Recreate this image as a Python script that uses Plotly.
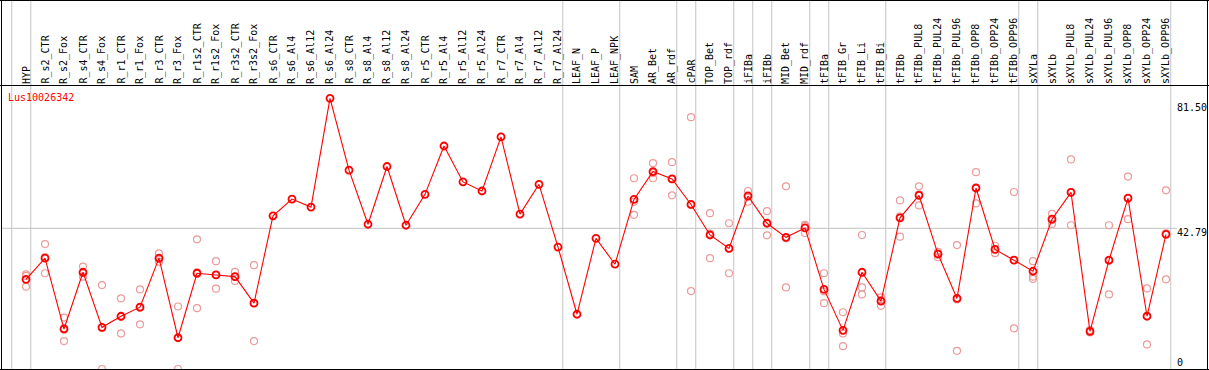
import plotly.graph_objects as go

categories = ["HYP", "R_s2_CTR", "R_s2_Fox", "R_s4_CTR", "R_s4_Fox", "R_r1_CTR", "R_r1_Fox",
              "R_r3_CTR", "R_r3_Fox", "R_r1s2_CTR", "R_r1s2_Fox", "R_r3s2_CTR", "R_r3s2_Fox",
              "R_s6_CTR", "R_s6_Al4", "R_s6_Al12", "R_s6_Al24", "R_s8_CTR", "R_s8_Al4", "R_s8_Al12",
              "R_s8_Al24", "R_r5_CTR", "R_r5_Al4", "R_r5_Al12", "R_r5_Al24", "R_r7_CTR", "R_r7_Al4",
              "R_r7_Al12", "R_r7_Al24", "LEAF_N", "LEAF_P", "LEAF_NPK", "SAM", "AR_Bet", "AR_rdf",
              "cPAR", "TOP_Bet", "TOP_rdf", "iFIBa", "iFIBb", "MID_Bet", "MID_rdf", "tFIBa",
              "tFIB_Gr", "tFIB_Li", "tFIB_Bi", "tFIBb", "tFIBb_PUL8", "tFIBb_PUL24", "tFIBb_PUL96",
              "tFIBb_OPP8", "tFIBb_OPP24", "tFIBb_OPP96", "sXYLa", "sXYLb", "sXYLb_PUL8",
              "sXYLb_PUL24", "sXYLb_PUL96", "sXYLb_OPP8", "sXYLb_OPP24", "sXYLb_OPP96"]

means = [27.6, 33.9, 12.8, 29.7, 13.3, 16.6, 19.3, 33.9, 10.2, 29.4, 28.9, 28.4, 20.5,
         46.5, 51.5, 49.1, 81.5, 60.1, 44.0, 61.2, 43.7, 52.9, 67.3, 56.6, 53.9, 70.0, 47.0,
         55.9, 37.2, 17.2, 39.8, 32.1, 51.4, 59.7, 57.5, 49.9, 40.8, 36.8, 52.4, 44.3, 40.1,
         42.9, 24.6, 12.4, 29.7, 21.1, 45.9, 52.6, 35.1, 21.9, 54.8, 36.5, 33.3, 30.0, 45.5,
         53.5, 12.1, 33.3, 51.8, 16.6, 41.0]

N = None
rep_a = [29.1, 38.1, 16.2, 31.4, 25.9, 21.9, 24.6, 35.3, 19.5, 39.5, 33.0, 29.8, 31.8,
         N, N, N, N, N, N, N, N, N, N, N, N, N, N, N, N, N, N, N,
         57.7, 62.2, 62.5, 75.9, 47.3, 44.3, 53.9, 47.9, 55.3, 43.5, 29.4, 17.8, 40.8, 19.7,
         51.1, 55.3, 35.8, 37.8, 59.5, 37.6, 53.6, 33.0, 47.1, 63.3, 12.5, 43.7, 58.2, 24.9, 54.1]
rep_b = [28.6, 29.4, 9.2, 28.4, 0.9, 11.5, 14.2, 32.8, 0.9, 19.0, 24.8, 27.1, 9.2,
         N, N, N, N, N, N, N, N, N, N, N, N, N, N, N, N, N, N, N,
         46.8, 57.7, 52.6, 24.1, 33.9, 29.4, 50.7, 40.7, 25.2, 41.4, 20.5, 7.7, 25.2, 21.4,
         40.3, 49.6, 34.2, 6.3, 50.2, 35.4, 13.0, 28.4, 44.1, 43.7, 11.8, 23.1, 45.5, 8.2, 27.6]
rep_c = [25.4, 34.2, 13.0, 29.4, 13.1, 16.4, 19.1, 33.6, 10.2, 29.7, 28.9, 28.3, 20.5,
         N, N, N, N, N, N, N, N, N, N, N, N, N, N, N, N, N, N, N,
         50.7, 59.2, 57.4, 49.7, 41.2, 36.7, 52.6, 44.3, 39.8, 43.8, 24.0, 11.5, 23.1, 22.2,
         46.3, 52.9, 35.3, 21.6, 54.7, 36.5, 33.3, 27.7, 45.3, 53.5, 12.0, 33.1, 51.7, 16.7, 41.3]

group_ends = [-1, 0, 28, 31, 34, 35, 37, 38, 39, 41, 42, 45, 52, 53, 60]
tick_values = [81.50, 42.79, 0]
tick_labels = ["81.50", "42.79", "0"]
grid_values = [42.79]
gene_id = "Lus10026342"

# ---- geometry (pixels) ----
W, H = 1209, 370
X0_PX, STEP_PX = 26.0, 19.0          # pixel of first category, spacing
Y_ZERO_PX, Y_SCALE = 372.0, 3.358    # pixel of value 0, pixels per unit

xmin = -X0_PX / STEP_PX
xmax = xmin + W / STEP_PX
ytop = Y_ZERO_PX / Y_SCALE
ybot = (Y_ZERO_PX - H) / Y_SCALE


def px_x(p):
    return xmin + p / STEP_PX


def px_y(p):
    return (Y_ZERO_PX - p) / Y_SCALE


xs = list(range(len(categories)))
RED = "#ff0000"
PINK = "#ec9a9a"
GRAY = "#c4c4c4"
FONT = "DejaVu Sans Mono"

fig = go.Figure()

shapes = []
# vertical group separators
for g in group_ends:
    xv = g + 0.25
    shapes.append(dict(type="line", x0=xv, x1=xv, y0=ytop, y1=ybot, xref="x", yref="y",
                       line=dict(color=GRAY, width=1), layer="below"))
# horizontal grid
for gv in grid_values:
    shapes.append(dict(type="line", x0=px_x(2), x1=px_x(1177), y0=gv, y1=gv, xref="x", yref="y",
                       line=dict(color=GRAY, width=1), layer="below"))
# frame
blk = dict(color="black", width=1)
frame = [
    dict(type="line", x0=px_x(1.5), x1=px_x(1.5), y0=ytop, y1=px_y(369.5), line=blk),
    dict(type="line", x0=px_x(1207.5), x1=px_x(1207.5), y0=ytop, y1=px_y(369.5), line=blk),
    dict(type="line", x0=px_x(0), x1=px_x(W), y0=px_y(0.5), y1=px_y(0.5), line=blk),
    dict(type="line", x0=px_x(0), x1=px_x(W), y0=px_y(369.5), y1=px_y(369.5), line=blk),
    dict(type="line", x0=px_x(0), x1=px_x(W), y0=px_y(85.5), y1=px_y(85.5), line=blk),
]
for s in frame:
    s.update(xref="x", yref="y")
shapes += frame

# replicate points
for reps in (rep_a, rep_b, rep_c):
    fig.add_trace(go.Scatter(
        x=xs, y=reps, mode="markers",
        marker=dict(symbol="circle-open", size=7, color=PINK, line=dict(width=1.2, color=PINK)),
        hoverinfo="skip", showlegend=False))

# mean line
fig.add_trace(go.Scatter(
    x=xs, y=means, mode="lines+markers",
    line=dict(color=RED, width=1.1),
    marker=dict(symbol="circle-open", size=7, color=RED, line=dict(width=1.8, color=RED)),
    showlegend=False))

annotations = []
for i, c in enumerate(categories):
    annotations.append(dict(x=i, y=px_y(84), xref="x", yref="y", text=c, showarrow=False,
                            textangle=-90, xanchor="center", yanchor="bottom",
                            font=dict(family=FONT, size=10, color="black"),
                            borderpad=0, borderwidth=0))
for v, lab in zip(tick_values, tick_labels):
    if v == max(tick_values):
        ypix = 107
    elif v == min(tick_values):
        ypix = 362
    else:
        ypix = Y_ZERO_PX - v * Y_SCALE + 4
    annotations.append(dict(x=px_x(1177), y=px_y(ypix), xref="x", yref="y", text=lab,
                            showarrow=False, xanchor="left", yanchor="middle",
                            font=dict(family=FONT, size=10, color="black"),
                            borderpad=0, borderwidth=0))
annotations.append(dict(x=px_x(8), y=px_y(97), xref="x", yref="y", text=gene_id,
                        showarrow=False, xanchor="left", yanchor="middle",
                        font=dict(family=FONT, size=10, color=RED), borderpad=0, borderwidth=0))

fig.update_layout(
    width=W, height=H, autosize=False,
    margin=dict(l=0, r=0, t=0, b=0, pad=0),
    paper_bgcolor="white", plot_bgcolor="white",
    xaxis=dict(range=[xmin, xmax], visible=False, showgrid=False, zeroline=False),
    yaxis=dict(range=[ybot, ytop], visible=False, showgrid=False, zeroline=False),
    shapes=shapes, annotations=annotations,
)

fig.write_html("out.html", config={"displayModeBar": False},
               post_script="document.body.style.margin='0';document.body.style.overflow='hidden';")
